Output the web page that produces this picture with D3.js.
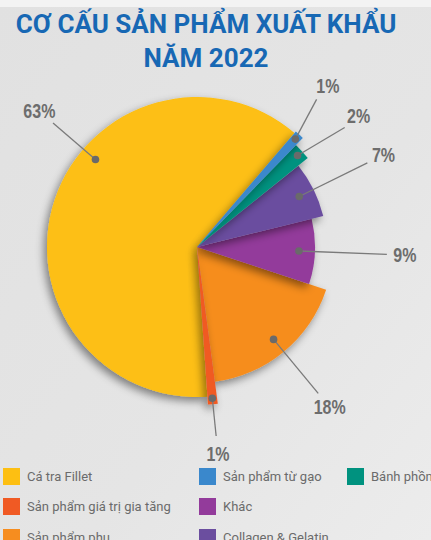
<!DOCTYPE html>
<html><head><meta charset="utf-8">
<script src="https://cdn.jsdelivr.net/npm/d3@7/dist/d3.min.js"></script>
<style>html,body{margin:0;padding:0;background:#e4e4e4;overflow:hidden}</style>
</head><body>
<svg id="c" width="431" height="540"></svg>
<script>
// ---- data ----
const categories = ["Cá tra Fillet","Sản phẩm từ gạo","Bánh phồng tôm","Collagen & Gelatin","Khác","Sản phẩm phụ","Sản phẩm giá trị gia tăng"];
const shares = [63, 1, 2, 7, 9, 18, 1];
const legendOrder = ["Cá tra Fillet","Sản phẩm giá trị gia tăng","Sản phẩm phụ","Sản phẩm từ gạo","Khác","Collagen & Gelatin","Bánh phồng tôm"];
const titleLines = ["CƠ CẤU SẢN PHẨM XUẤT KHẨU", "NĂM 2022"];

// ---- style ----
const colors = ["#FDBF12","#3A88CC","#00927F","#6B4E9F","#933B9B","#F68D1F","#F05A24"];
const radii  = [150, 152, 142, 130, 118, 136, 158];
const labelFrac = {"Cá tra Fillet": 0.6};
const drawOrder = ["Cá tra Fillet","Sản phẩm phụ","Khác","Collagen & Gelatin","Bánh phồng tôm","Sản phẩm từ gạo","Sản phẩm giá trị gia tăng"];

const W = 431, H = 540, cx = 197, cy = 247;
const deg = Math.PI / 180;
const start = -184 * deg;

const color = d3.scaleOrdinal().domain(categories).range(colors);
const radius = d3.scaleOrdinal().domain(categories).range(radii);

const svg = d3.select("#c");
const defs = svg.append("defs");
const bg = defs.append("linearGradient").attr("id","bg").attr("x1","0").attr("y1","0").attr("x2","1").attr("y2","1");
bg.append("stop").attr("offset","0").attr("stop-color","#e1e1e1");
bg.append("stop").attr("offset","0.6").attr("stop-color","#e5e5e5");
bg.append("stop").attr("offset","1").attr("stop-color","#ececec");
const f = defs.append("filter").attr("id","sh").attr("x","-40%").attr("y","-40%").attr("width","180%").attr("height","180%");
f.append("feDropShadow").attr("dx",-3).attr("dy",4).attr("stdDeviation",4).attr("flood-color","#000").attr("flood-opacity",0.45);

svg.append("rect").attr("width",W).attr("height",H).attr("fill","url(#bg)");
svg.append("rect").attr("width",W).attr("height",7).attr("fill","#f3f3f3");

// title
svg.selectAll("text.title").data(titleLines).join("text")
  .attr("class","title")
  .attr("x",206).attr("y",(d,i)=>33 + i*34)
  .attr("text-anchor","middle")
  .attr("font-family","Roboto, 'Liberation Sans', sans-serif")
  .attr("font-weight",700).attr("font-size",26)
  .attr("fill","#1768B4")
  .text(d=>d);

// pie
const data = categories.map((c,i)=>({c, v: shares[i]}));
const pie = d3.pie().sort(null).value(d=>d.v).startAngle(start).endAngle(start + 2*Math.PI);
const arcs = pie(data);
const arc = d3.arc().innerRadius(0).outerRadius(d=>radius(d.data.c));

const g = svg.append("g").attr("transform",`translate(${cx},${cy})`);
const ordered = drawOrder.map(c => arcs.find(a=>a.data.c===c));
g.selectAll("path.slice").data(ordered).join("path")
  .attr("class","slice")
  .attr("d",arc)
  .attr("fill",d=>color(d.data.c))
  .attr("filter","url(#sh)");

// label angles with simple separation
const labs = arcs.map(a=>{
  const fr = labelFrac[a.data.c] ?? 0.5;
  const ang = a.startAngle + (a.endAngle - a.startAngle)*fr;
  return {a, ang, la: ang};
});
const minSep = 12*deg;
for (let it=0; it<50; it++) {
  const s = labs.slice().sort((p,q)=>p.la-q.la);
  for (let i=0;i<s.length-1;i++){
    const d = s[i+1].la - s[i].la;
    if (d < minSep) { const m = (minSep-d)/2; s[i].la -= m; s[i+1].la += m; }
  }
}
const pt = (ang, r) => [Math.sin(ang)*r, -Math.cos(ang)*r];
const lg = g.append("g");
labs.forEach(L=>{
  const R = radius(L.a.data.c);
  const span = L.a.endAngle - L.a.startAngle;
  const rDot = span > 10*deg ? R - 16 : R - 6;
  const p0 = pt(L.ang, rDot), p1 = pt(L.la, 190), pT = pt(L.la, 208);
  lg.append("line").attr("x1",p0[0]).attr("y1",p0[1]).attr("x2",p1[0]).attr("y2",p1[1])
    .attr("stroke","#7a7a7a").attr("stroke-width",1.3);
  lg.append("circle").attr("cx",p0[0]).attr("cy",p0[1]).attr("r",3.8).attr("fill","#6a6a6a");
  lg.append("text").attr("transform",`translate(${pT[0]},${pT[1]}) scale(0.8,1)`)
    .attr("dy","0.36em")
    .attr("text-anchor","middle")
    .attr("font-family","'Liberation Sans','DejaVu Sans',sans-serif")
    .attr("font-weight",700).attr("font-size",20).attr("fill","#6d6d6d")
    .text(L.a.data.v + "%");
});

// legend (column-major, 3 rows)
const colX = [3, 199, 347], rowY = [468, 498, 529];
const leg = svg.append("g");
legendOrder.forEach((c,i)=>{
  const x = colX[Math.floor(i/3)], y = rowY[i%3];
  leg.append("rect").attr("x",x).attr("y",y).attr("width",17).attr("height",17).attr("fill",color(c));
  leg.append("text").attr("x",x+24).attr("y",y+12.5)
    .attr("font-family","Roboto, sans-serif").attr("font-size",13).attr("fill","#6b6b6b")
    .text(c);
});
</script>
</body></html>
